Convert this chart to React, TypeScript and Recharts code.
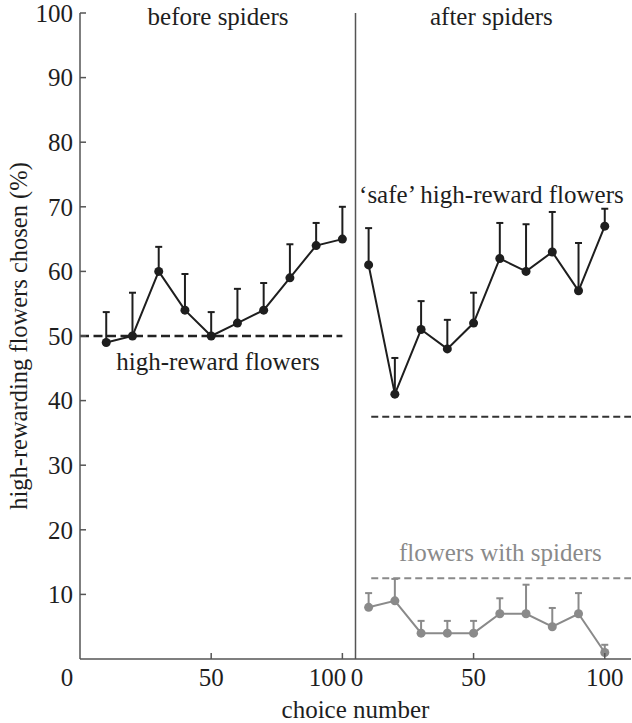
import {
  ComposedChart,
  Line,
  XAxis,
  YAxis,
  ErrorBar,
  ReferenceLine,
  ReferenceDot,
  Label,
} from 'recharts';

// choice number (same for every panel)
const choices = [10, 20, 30, 40, 50, 60, 70, 80, 90, 100];

// before spiders: high-reward flowers chosen (%) and top of the error bar
const beforeMean = [49, 50, 60, 54, 50, 52, 54, 59, 64, 65];
const beforeUpper = [53.7, 56.7, 63.8, 59.6, 53.7, 57.3, 58.2, 64.2, 67.5, 70.0];

// after spiders: 'safe' high-reward flowers
const safeMean = [61, 41, 51, 48, 52, 62, 60, 63, 57, 67];
const safeUpper = [66.7, 46.6, 55.4, 52.5, 56.7, 67.5, 67.3, 69.2, 64.4, 69.7];

// after spiders: flowers with spiders
const spiderMean = [8, 9, 4, 4, 4, 7, 7, 5, 7, 1];
const spiderUpper = [10.2, 12.4, 5.9, 5.9, 5.9, 9.4, 11.5, 7.9, 10.2, 2.2];

// chance levels
const beforeChance = 50;
const safeChance = 37.5;
const spiderChance = 12.5;

const yTicks = [10, 20, 30, 40, 50, 60, 70, 80, 90, 100];
const leftXTicks = [0, 50, 100];
const rightXTicks = [0, 50, 100];

const RIGHT_OFFSET = 100; // right panel's 0 sits on left panel's 100
const DIVIDER = 105;

const FONT = '"Liberation Serif", "Times New Roman", serif';
const FS = 25;
const INK = '#1e1e1e';
const GREY = '#8a8a8a';
const AXIS = '#555';

const rows = (mean: number[], upper: number[]) =>
  choices.map((c, i) => ({ choice: c, value: mean[i], err: [0, upper[i] - mean[i]] }));

const beforeRows = rows(beforeMean, beforeUpper);
const safeRows = rows(safeMean, safeUpper);
const spiderRows = rows(spiderMean, spiderUpper);

const combinedXTicks = Array.from(
  new Set([...leftXTicks, ...rightXTicks.map((t) => t + RIGHT_OFFSET)])
);

const X_MARGIN = 8;
const XTick = (props: any) => {
  const { x, y, payload } = props;
  const v = payload.value;
  const axisY = y - X_MARGIN;
  const base = axisY + 27;
  const texts: { t: string; dx: number }[] = [];
  if (v <= RIGHT_OFFSET) {
    const dx = v === 0 ? -13 : v === RIGHT_OFFSET ? -15 : 0;
    texts.push({ t: String(v), dx });
  }
  if (v >= RIGHT_OFFSET) {
    const dx = v === RIGHT_OFFSET ? 14.5 : 0;
    texts.push({ t: String(v - RIGHT_OFFSET), dx });
  }
  return (
    <g>
      {v !== 0 && <line x1={x} x2={x} y1={axisY} y2={axisY - 6} stroke={AXIS} strokeWidth={1.5} />}
      {texts.map((d, i) => (
        <text key={i} x={x + d.dx} y={base} textAnchor="middle" fill={INK} fontSize={FS} fontFamily={FONT}>
          {d.t}
        </text>
      ))}
    </g>
  );
};

const Y_MARGIN = 7;
const YTick = (props: any) => {
  const { x, y, payload } = props;
  const axisX = x + Y_MARGIN;
  return (
    <g>
      <line x1={axisX} x2={axisX + 6} y1={y} y2={y} stroke={AXIS} strokeWidth={1.5} />
      <text x={x} y={y} dy="0.35em" textAnchor="end" fill={INK} fontSize={FS} fontFamily={FONT}>
        {payload.value}
      </text>
    </g>
  );
};

const note = (text: string, color: string) => (props: any) => {
  const vb = props.viewBox || {};
  const cx = vb.x + (vb.width || 0) / 2;
  const cy = vb.y + (vb.height || 0) / 2;
  return (
    <text x={cx} y={cy} textAnchor="middle" fill={color} fontSize={FS} fontFamily={FONT}>
      {text}
    </text>
  );
};

export default function App() {
  return (
    <div style={{ position: 'absolute', left: 0, top: 0, background: '#fff' }}>
      <ComposedChart
        width={632}
        height={723}
        margin={{ top: 13, right: 1, bottom: 0, left: 0 }}
        style={{ fontFamily: FONT }}
      >
        <XAxis
          xAxisId="L"
          type="number"
          dataKey="choice"
          domain={[0, 210]}
          ticks={combinedXTicks}
          interval={0}
          allowDataOverflow
          height={64}
          tickSize={0}
          tickMargin={X_MARGIN}
          tickLine={false}
          axisLine={{ stroke: AXIS, strokeWidth: 1.5 }}
          tick={<XTick />}
        >
          <Label
            content={(p: any) => (
              <text
                x={p.viewBox.x + p.viewBox.width / 2}
                y={p.viewBox.y + 59}
                textAnchor="middle"
                fill={INK}
                fontSize={FS}
                fontFamily={FONT}
              >
                choice number
              </text>
            )}
          />
        </XAxis>
        <XAxis
          xAxisId="R"
          type="number"
          dataKey="choice"
          domain={[-RIGHT_OFFSET, 210 - RIGHT_OFFSET]}
          allowDataOverflow
          hide
        />
        <YAxis
          type="number"
          domain={[0, 100]}
          ticks={yTicks}
          interval={0}
          allowDataOverflow
          width={80}
          tickSize={0}
          tickMargin={Y_MARGIN}
          tickLine={false}
          axisLine={{ stroke: AXIS, strokeWidth: 1.5 }}
          tick={<YTick />}
        >
          <Label
            content={(p: any) => {
              const cx = 27;
              const cy = p.viewBox.y + p.viewBox.height / 2;
              return (
                <text
                  x={cx}
                  y={cy}
                  transform={`rotate(-90 ${cx} ${cy})`}
                  textAnchor="middle"
                  fill={INK}
                  fontSize={24.5}
                  fontFamily={FONT}
                >
                  high-rewarding flowers chosen (%)
                </text>
              );
            }}
          />
        </YAxis>

        <ReferenceLine xAxisId="L" x={DIVIDER} stroke={AXIS} strokeWidth={1.5} />

        <ReferenceLine
          xAxisId="L"
          segment={[
            { x: 0, y: beforeChance },
            { x: 100, y: beforeChance },
          ]}
          stroke="#222"
          strokeWidth={2.5}
          strokeDasharray="9 4.5"
        />
        <ReferenceLine
          xAxisId="R"
          segment={[
            { x: 11, y: safeChance },
            { x: 110, y: safeChance },
          ]}
          stroke="#333"
          strokeWidth={2}
          strokeDasharray="7 4"
        />
        <ReferenceLine
          xAxisId="R"
          segment={[
            { x: 11, y: spiderChance },
            { x: 110, y: spiderChance },
          ]}
          stroke={GREY}
          strokeWidth={2}
          strokeDasharray="7 4"
        />

        <ReferenceDot xAxisId="L" x={52.6} y={98.2} r={0} fill="none" stroke="none" ifOverflow="visible" label={note('before spiders', INK)} />
        <ReferenceDot xAxisId="R" x={56.8} y={98.2} r={0} fill="none" stroke="none" ifOverflow="visible" label={note('after spiders', INK)} />
        <ReferenceDot xAxisId="L" x={52.6} y={44.8} r={0} fill="none" stroke="none" ifOverflow="visible" label={note('high-reward flowers', INK)} />
        <ReferenceDot xAxisId="R" x={56.8} y={70.6} r={0} fill="none" stroke="none" ifOverflow="visible" label={note('\u2018safe\u2019 high-reward flowers', INK)} />
        <ReferenceDot xAxisId="R" x={60.2} y={15.1} r={0} fill="none" stroke="none" ifOverflow="visible" label={note('flowers with spiders', GREY)} />

        <Line
          xAxisId="L"
          data={beforeRows}
          dataKey="value"
          stroke={INK}
          strokeWidth={2}
          dot={{ r: 4.5, fill: INK, stroke: INK, strokeWidth: 0 }}
          activeDot={false}
          isAnimationActive={false}
        >
          <ErrorBar dataKey="err" direction="y" width={3.5} stroke={INK} strokeWidth={2} />
        </Line>
        <Line
          xAxisId="R"
          data={safeRows}
          dataKey="value"
          stroke={INK}
          strokeWidth={2}
          dot={{ r: 4.5, fill: INK, stroke: INK, strokeWidth: 0 }}
          activeDot={false}
          isAnimationActive={false}
        >
          <ErrorBar dataKey="err" direction="y" width={3.5} stroke={INK} strokeWidth={2} />
        </Line>
        <Line
          xAxisId="R"
          data={spiderRows}
          dataKey="value"
          stroke={GREY}
          strokeWidth={2}
          dot={{ r: 4.5, fill: GREY, stroke: GREY, strokeWidth: 0 }}
          activeDot={false}
          isAnimationActive={false}
        >
          <ErrorBar dataKey="err" direction="y" width={3.5} stroke={GREY} strokeWidth={2} />
        </Line>
      </ComposedChart>
    </div>
  );
}
